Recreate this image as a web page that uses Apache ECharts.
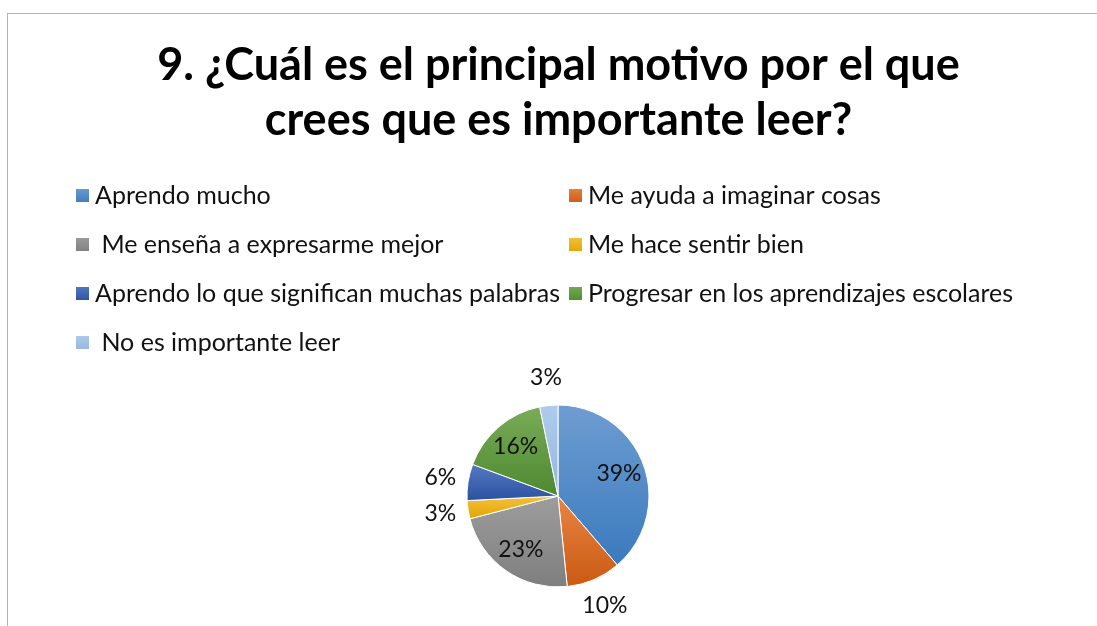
<!DOCTYPE html>
<html>
<head>
<meta charset="utf-8">
<script src="https://cdn.jsdelivr.net/npm/echarts@6/dist/echarts.min.js"></script>
<style>
  html, body { margin: 0; padding: 0; overflow: hidden; background: #fff; }
  #chart {
    position: absolute;
    left: 7px;
    top: 13px;
    width: 1101px;
    height: 620px;
    border-left: 1px solid #b4b4b4;
    border-top: 1px solid #b4b4b4;
  }
</style>
</head>
<body>
<div id="chart"></div>
<script>
// categories, in the order the slices run clockwise from 12 o'clock
const categories = [
  'Aprendo mucho',
  'Me ayuda a imaginar cosas',
  ' Me enseña a expresarme mejor',
  'Me hace sentir bien',
  'Aprendo lo que significan muchas palabras',
  'Progresar en los aprendizajes escolares',
  ' No es importante leer'
]
// number of answers (31 students)
const counts = [12, 3, 7, 1, 2, 5, 1]

// office style gradient, light on top, dark at the bottom
const colorTop = ['#6e9dd1', '#ea8443', '#9d9d9d', '#f6c03f', '#5679c4', '#7aab59', '#afcceb']
const colorBottom = ['#3b7abe', '#c95a14', '#7e7e7e', '#e2a500', '#2a519f', '#4e8930', '#93b6df']

const FONT = 'Lato'
const R = 91
const total = counts.reduce((a, b) => a + b, 0)
const share = i => counts[i] / total * 100

const fill = i => new echarts.graphic.LinearGradient(0, 0, 0, 1, [
  { offset: 0, color: colorTop[i] },
  { offset: 1, color: colorBottom[i] },
])

const pctLabel = p => Math.round(p.percent) + '%'
const labelText = { formatter: pctLabel, fontFamily: FONT, fontSize: 23, color: '#111' }

const pieData = categories.map((name, i) => ({
  name,
  value: counts[i],
  itemStyle: { color: fill(i) },
}))

// same slices again, transparent, only used to place the % labels like excel does
// big slices: label inside, small ones: label just outside the rim
const labelData = big => categories.map((name, i) => ({
  name,
  value: counts[i],
  label: { show: big ? share(i) > 12 : share(i) <= 12 },
}))

const labelSeries = (radius, big) => ({
  type: 'pie',
  center: [550, 482],
  radius,
  startAngle: 90,
  data: labelData(big),
  itemStyle: { color: 'rgba(0,0,0,0)' },
  label: { position: 'inside', ...labelText },
  labelLine: { show: false },
  emphasis: { disabled: true },
  silent: true,
  z: 3,
})

const legendBase = {
  orient: 'vertical',
  top: 169,
  padding: 0,
  icon: 'rect',
  itemWidth: 15,
  itemHeight: 15,
  itemGap: 24,
  selectedMode: false,
  textStyle: { fontFamily: FONT, fontSize: 25, color: '#111', lineHeight: 24 },
}

const chart = echarts.init(document.getElementById('chart'))

chart.setOption({
  animation: false,
  title: {
    text: '9. ¿Cuál es el principal motivo por el que\ncrees que es importante leer?',
    left: 'center',
    top: 24,
    padding: 0,
    textStyle: {
      fontFamily: FONT,
      fontSize: 45,
      fontWeight: 'bold',
      color: '#000',
      lineHeight: 55,
    },
  },
  legend: [
    { ...legendBase, left: 66, data: categories.filter((_, i) => i % 2 === 0) },
    { ...legendBase, left: 559, data: categories.filter((_, i) => i % 2 === 1) },
  ],
  series: [
    {
      type: 'pie',
      center: [550, 482],
      radius: [0, R],
      startAngle: 90,
      data: pieData,
      itemStyle: { borderColor: '#fff', borderWidth: 1 },
      label: { show: false },
      labelLine: { show: false },
      emphasis: { disabled: true },
      silent: true,
    },
    labelSeries([0, 124], true),
    labelSeries([R, R + 50], false),
  ],
})
</script>
</body>
</html>
